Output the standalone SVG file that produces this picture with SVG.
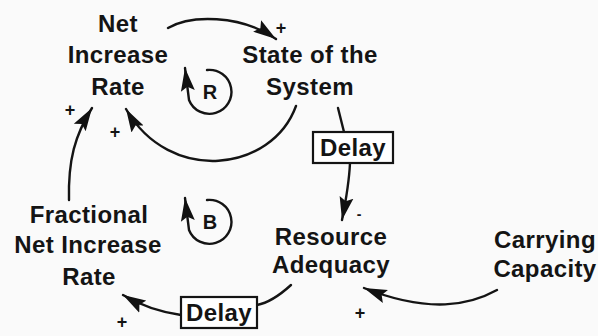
<svg xmlns="http://www.w3.org/2000/svg" width="598" height="336" viewBox="0 0 598 336">
<defs>
<marker id="ah" markerUnits="userSpaceOnUse" markerWidth="24" markerHeight="16" refX="23" refY="8" orient="auto">
<path d="M0,1 L23,8 L0,15 L4,8 z" fill="#111"/>
</marker>
<style>
.t{font-family:"Liberation Sans",Arial,Helvetica,sans-serif;font-weight:bold;font-size:24px;fill:#141414;text-anchor:middle;letter-spacing:0.4px}
.p{font-family:"Liberation Sans",Arial,sans-serif;font-weight:bold;font-size:18px;fill:#141414;text-anchor:middle}
.m{font-family:"Liberation Sans",Arial,sans-serif;font-weight:bold;font-size:14px;fill:#141414;text-anchor:middle}
.l{font-family:"Liberation Sans",Arial,sans-serif;font-weight:bold;font-size:20px;fill:#141414;text-anchor:middle}
.c{fill:none;stroke:#141414;stroke-width:2.4;stroke-linecap:round}
.box{fill:#fff;stroke:#141414;stroke-width:2.2}
</style>
</defs>
<rect width="598" height="336" fill="#fafafa"/>
<g id="connectors">
<path class="c" d="M168,28 C190,15 240,14 276,39" marker-end="url(#ah)"/>
<path class="c" d="M296,106 C272,172 170,185 126,109" marker-end="url(#ah)"/>
<path class="c" d="M69,200 C68,160 75,135 92,108" marker-end="url(#ah)"/>
<path class="c" d="M338,108 L344,132"/>
<path class="c" d="M350,163 C349,185 346,200 342,220" marker-end="url(#ah)"/>
<path class="c" d="M291,285 C280,295 268,303 257,305"/>
<path class="c" d="M181,315 C160,312 140,305 123,295" marker-end="url(#ah)"/>
<path class="c" d="M497,290 C470,305 430,314 364,288" marker-end="url(#ah)"/>
<text class="p" x="281" y="34">+</text>
<text class="p" x="70" y="116">+</text>
<text class="p" x="115" y="138">+</text>
<text class="p" x="122" y="328">+</text>
<text class="p" x="360" y="319">+</text>
<text class="m" x="359" y="219">-</text>
</g>
<g id="loopR">
<path class="c" d="M207,70 A22,22 0 1 1 189,100 L185,68" marker-end="url(#ah)"/>
<text class="l" x="210" y="99">R</text>
</g>
<g id="loopB">
<path class="c" d="M207,200 A22,22 0 1 1 189,230 L185,198" marker-end="url(#ah)"/>
<text class="l" x="210" y="229">B</text>
</g>
<g id="netIncreaseRate">
<text class="t" x="118" y="32">Net</text>
<text class="t" x="118" y="63">Increase</text>
<text class="t" x="118" y="95">Rate</text>
</g>
<g id="stateOfTheSystem">
<text class="t" x="310" y="63">State of the</text>
<text class="t" x="310" y="95">System</text>
</g>
<g id="delay1">
<rect class="box" x="313" y="132" width="80" height="31"/>
<text class="t" x="353" y="156">Delay</text>
</g>
<g id="resourceAdequacy">
<text class="t" x="331" y="245">Resource</text>
<text class="t" x="331" y="273">Adequacy</text>
</g>
<g id="carryingCapacity">
<text class="t" x="545" y="248">Carrying</text>
<text class="t" x="545" y="277">Capacity</text>
</g>
<g id="delay2">
<rect class="box" x="181" y="297" width="76" height="31"/>
<text class="t" x="219" y="321">Delay</text>
</g>
<g id="fractionalNetIncreaseRate">
<text class="t" x="89" y="223">Fractional</text>
<text class="t" x="88" y="253">Net Increase</text>
<text class="t" x="89" y="285">Rate</text>
</g>
</svg>
